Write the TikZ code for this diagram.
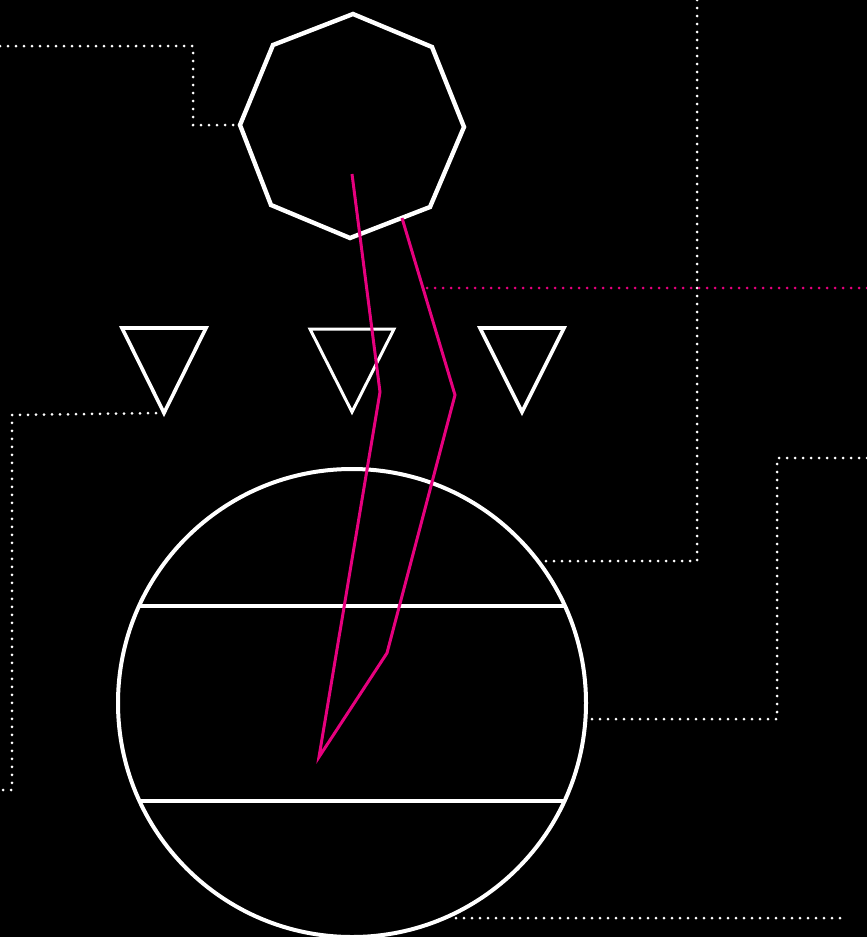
\documentclass[tikz,border=0pt]{standalone}
\usepackage{xcolor}
\definecolor{mag}{HTML}{E6007E}
\begin{document}
\begin{tikzpicture}[x=1pt,y=-1pt,
  wline/.style={draw=white,line width=4pt,line join=miter},
  tline/.style={draw=white,line width=3.6pt,line join=miter},
  wdots/.style={draw=white,line width=3pt,line cap=round,dash pattern=on 0pt off 8pt},
  mdots/.style={draw=mag,line width=3pt,line cap=round,dash pattern=on 0pt off 8pt},
  mline/.style={draw=mag,line width=3pt,line join=miter}]
\fill[black] (0,0) rectangle (867,937);
\useasboundingbox (0,0) rectangle (867,937);
% octagon vertices
\coordinate (o1) at (353,14);
\coordinate (o2) at (432,47);
\coordinate (o3) at (464,127);
\coordinate (o4) at (430,207);
\coordinate (o5) at (350,238);
\coordinate (o6) at (271,205);
\coordinate (o7) at (240,125);
\coordinate (o8) at (273,45);
% triangles
\coordinate (ta1) at (122,328); \coordinate (ta2) at (206,328); \coordinate (ta3) at (164,413);
\coordinate (tb1) at (310,329); \coordinate (tb2) at (394,329); \coordinate (tb3) at (352,412);
\coordinate (tc1) at (480,328); \coordinate (tc2) at (564,328); \coordinate (tc3) at (522,412);
% circle
\coordinate (cc) at (352,703);
\coordinate (ch1l) at (139,606); \coordinate (ch1r) at (565,606);
\coordinate (ch2l) at (139,801); \coordinate (ch2r) at (565,801);
% magenta polyline points
\coordinate (m1) at (352,174);
\coordinate (m2) at (380,392);
\coordinate (m3) at (319,757);
\coordinate (m4) at (387,653);
\coordinate (m5) at (455,395);
\coordinate (m6) at (402,218);
% dotted connector points
\coordinate (a0) at (0,46); \coordinate (a1) at (193,46); \coordinate (a2) at (193,125);
\coordinate (b0) at (697,0); \coordinate (b1) at (697,561); \coordinate (b2) at (546,561);
\coordinate (c1) at (12,415); \coordinate (c2) at (12,790); \coordinate (c3) at (0,790);
\coordinate (d0) at (867,458); \coordinate (d1) at (777,458); \coordinate (d2) at (777,719); \coordinate (d3) at (587,719);
\coordinate (e0) at (456,918); \coordinate (e1) at (840,918);
\coordinate (f0) at (427,288); \coordinate (f1) at (867,288);

% dotted lines
\draw[wdots] (a0) -- (a1) -- (a2) -- (o7);
\draw[wdots] (b0) -- (b1) -- (b2);
\draw[wdots] (ta3) -- (c1) -- (c2) -- (c3);
\draw[wdots] (d0) -- (d1) -- (d2) -- (d3);
\draw[wdots] (e0) -- (e1);
\draw[mdots] (f0) -- (f1);

% shapes
\draw[wline,line width=4.4pt] (o1) -- (o2) -- (o3) -- (o4) -- (o5) -- (o6) -- (o7) -- (o8) -- cycle;
\draw[tline] (ta1) -- (ta2) -- (ta3) -- cycle;
\draw[tline,line width=3pt] (tb1) -- (tb2) -- (tb3) -- cycle;
\draw[tline] (tc1) -- (tc2) -- (tc3) -- cycle;
\draw[wline] (cc) circle[radius=234];
\draw[wline] (ch1l) -- (ch1r);
\draw[wline] (ch2l) -- (ch2r);

% magenta polyline
\draw[mline] (m1) -- (m2) -- (m3) -- (m4) -- (m5) -- (m6);
\end{tikzpicture}
\end{document}
